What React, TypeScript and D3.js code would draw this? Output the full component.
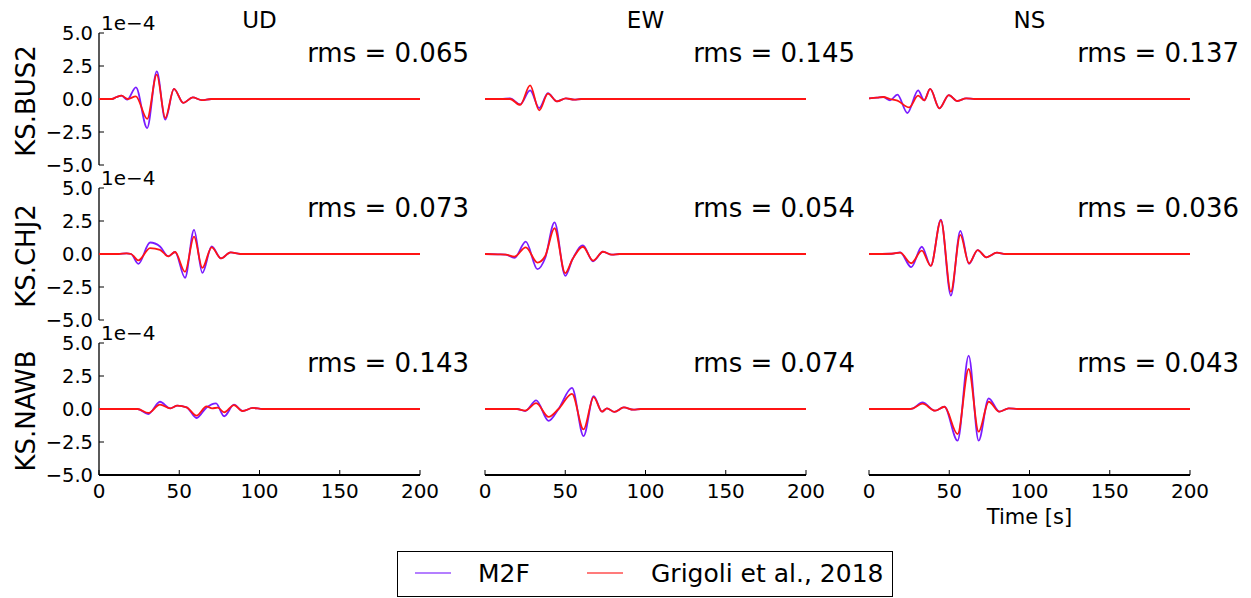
import React from 'react';
import * as d3 from 'd3';

// waveform key points: [time (s), amplitude (1e-4)]
const BUS2_UD_M2F = [[0,0],[8,0],[11,0.15],[14,0.25],[17.5,-0.05],[23,0.88],[30,-2.2],[36,2.1],[41.3,-1.57],[46.7,0.76],[52.5,-0.3],[58.4,0.12],[64,-0.08],[70,0],[200,0]];
const BUS2_UD_GRI = [[0,0],[8,0],[11,0.15],[14,0.25],[18,0.0],[23,0.2],[30,-1.5],[36,1.84],[41.3,-1.44],[46.7,0.76],[52.5,-0.3],[58.4,0.12],[64,-0.08],[70,0],[200,0]];
const BUS2_EW_M2F = [[0,0],[10,0],[15.6,0.05],[21.9,-0.4],[28.1,0.65],[33.8,-0.68],[39.2,0.45],[44.8,-0.18],[50.4,0.05],[55.6,-0.05],[60,0],[200,0]];
const BUS2_EW_GRI = [[0,0],[10,0],[15.6,0.0],[21.9,-0.45],[28.1,1.03],[33.8,-0.86],[39.2,0.4],[44.8,-0.18],[50.4,0.05],[55.6,-0.05],[60,0],[200,0]];
const BUS2_NS_M2F = [[0,0.05],[5,0.1],[8.9,0.15],[13.1,-0.1],[17.7,0.33],[23.9,-1.06],[30.6,0.65],[34.4,-0.1],[38.1,0.76],[43.9,-0.71],[49.7,0.3],[55.1,-0.15],[60.5,0.05],[66,0],[200,0]];
const BUS2_NS_GRI = [[0,0.05],[5,0.1],[8.9,0.15],[13,0.0],[17.7,-0.13],[25,-0.64],[30.6,0.25],[34.4,-0.1],[38.1,0.76],[43.9,-0.71],[49.7,0.3],[55.1,-0.15],[60.5,0.05],[66,0],[200,0]];

const CHJ2_UD_M2F = [[0,0],[12,0],[17.2,0.05],[20,0.0],[24.5,-0.75],[31.8,0.87],[38,0.57],[43.2,-0.18],[47.4,0.15],[53.6,-1.8],[59.2,1.83],[64.4,-1.43],[70.2,0.57],[76,-0.33],[82,0.12],[88,0],[200,0]];
const CHJ2_UD_GRI = [[0,0],[12,0],[17.2,0.05],[20,0.0],[24.5,-0.48],[31.8,0.45],[38,0.32],[43.2,-0.18],[47.4,0.15],[53.6,-1.35],[59.2,1.32],[64.4,-1.05],[70.2,0.5],[76,-0.33],[82,0.12],[88,0],[200,0]];
const CHJ2_EW_M2F = [[0,0],[8,-0.03],[13,-0.05],[18.3,-0.3],[25.4,0.94],[32.7,-1.15],[37.5,-0.3],[43.3,2.4],[50,-1.65],[54.5,-0.4],[61,0.65],[67.3,-0.55],[73.5,0.17],[79,-0.05],[84,0],[200,0]];
const CHJ2_EW_GRI = [[0,0],[8,-0.03],[13,-0.05],[18.3,-0.2],[25.4,0.5],[32.7,-0.65],[37.5,-0.15],[43.3,1.95],[50,-1.45],[54.5,-0.4],[61,0.55],[67.3,-0.5],[73.5,0.17],[79,-0.05],[84,0],[200,0]];
const CHJ2_NS_M2F = [[0,0],[14,0.02],[19.4,0.13],[26.3,-1.0],[32.9,0.55],[38.5,-0.9],[44.8,2.6],[51,-3.15],[56.9,1.75],[62.3,-0.75],[67.7,0.3],[73.1,-0.25],[79.7,0.1],[85,0],[200,0]];
const CHJ2_NS_GRI = [[0,0],[14,0.02],[19.4,0.1],[26.3,-0.7],[32.9,0.25],[38.5,-0.9],[44.8,2.55],[51,-2.85],[56.9,1.45],[62.3,-0.7],[67.7,0.3],[73.1,-0.25],[79.7,0.1],[85,0],[200,0]];

const NAWB_UD_M2F = [[0,0],[24,0],[30.7,-0.38],[38,0.55],[44.4,0.05],[48.8,0.25],[54.6,0.13],[60.8,-0.68],[67,0.12],[72.9,0.43],[78,-0.55],[84.1,0.33],[89.5,-0.15],[95.8,0.08],[102,0],[200,0]];
const NAWB_UD_GRI = [[0,0],[24,0],[30.7,-0.3],[38,0.33],[44.4,0.05],[48.8,0.25],[54.6,0.13],[60.8,-0.5],[67,0.2],[70.5,0.05],[74,0.1],[78,-0.25],[84.1,0.3],[89.5,-0.15],[95.8,0.08],[102,0],[200,0]];
const NAWB_EW_M2F = [[0,0],[20,0],[25,-0.15],[31.9,0.65],[39.6,-0.9],[45.8,0.0],[54.2,1.6],[61.4,-2.05],[67.7,0.98],[72.9,-0.2],[76,0.05],[80.6,-0.22],[86.5,0.12],[92.5,-0.05],[97,0],[200,0]];
const NAWB_EW_GRI = [[0,0],[20,0],[25,-0.12],[31.9,0.45],[39.6,-0.6],[45.8,0.0],[54.2,1.15],[61.4,-1.55],[67.7,0.9],[72.9,-0.2],[76,0.05],[80.6,-0.22],[86.5,0.12],[92.5,-0.05],[97,0],[200,0]];
const NAWB_NS_M2F = [[0,0],[25,0],[27.5,0.05],[33.3,0.5],[41.2,-0.13],[47,0.17],[55.2,-2.4],[62.1,4.04],[68.3,-2.4],[74.6,0.8],[81.2,-0.2],[87,0.05],[93,0],[200,0]];
const NAWB_NS_GRI = [[0,0],[25,0],[27.5,0.05],[33.3,0.4],[41.2,-0.13],[47,0.17],[55.2,-1.9],[62.1,3.03],[68.3,-1.72],[74.6,0.55],[81.2,-0.2],[87,0.05],[93,0],[200,0]];

const stations = ['KS.BUS2', 'KS.CHJ2', 'KS.NAWB'];
const components = ['UD', 'EW', 'NS'];
const rmsValues = [
  ['0.065', '0.145', '0.137'],
  ['0.073', '0.054', '0.036'],
  ['0.143', '0.074', '0.043'],
];
const m2f = [
  [BUS2_UD_M2F, BUS2_EW_M2F, BUS2_NS_M2F],
  [CHJ2_UD_M2F, CHJ2_EW_M2F, CHJ2_NS_M2F],
  [NAWB_UD_M2F, NAWB_EW_M2F, NAWB_NS_M2F],
];
const grigoli = [
  [BUS2_UD_GRI, BUS2_EW_GRI, BUS2_NS_GRI],
  [CHJ2_UD_GRI, CHJ2_EW_GRI, CHJ2_NS_GRI],
  [NAWB_UD_GRI, NAWB_EW_GRI, NAWB_NS_GRI],
];
const xTicks = [0, 50, 100, 150, 200];
const yTicks = [5, 2.5, 0, -2.5, -5];
const legendLabels = ['M2F', 'Grigoli et al., 2018'];

const BLUE = '#7a1cff';
const RED = '#ff1414';
const FONT = '"DejaVu Sans", sans-serif';

const colLeft = [99, 485, 869];
const rowZero = [99, 254, 409];
const plotW = 321;
const half = 66;

const fmt = (v: number) => d3.format('.1f')(v).replace('-', '\u2212');

export default function App() {
  return (
    <svg width={1251} height={598} style={{ position: 'absolute', left: 0, top: 0, background: '#fff' }} fontFamily={FONT}>
      {components.map((c, ci) => (
        <text key={c} x={colLeft[ci] + plotW / 2} y={28} fontSize={23} textAnchor="middle">{c}</text>
      ))}
      {stations.map((st, ri) => {
        const y = d3.scaleLinear().domain([-5, 5]).range([rowZero[ri] + half, rowZero[ri] - half]);
        return (
          <g key={st}>
            <text transform={`translate(35,${rowZero[ri] + 2}) rotate(-90)`} fontSize={26} textAnchor="middle">{st}</text>
            {components.map((c, ci) => {
              const x = d3.scaleLinear().domain([0, 200]).range([colLeft[ci], colLeft[ci] + plotW]);
              const line = d3.line<number[]>().x(d => x(d[0])).y(d => y(d[1])).curve(d3.curveMonotoneX);
              return (
                <g key={c}>
                  {ci === 0 && (
                    <g>
                      <line x1={x(0)} x2={x(0)} y1={y(5)} y2={y(-5)} stroke="#000" strokeWidth={1.3} />
                      {yTicks.map(t => (
                        <g key={t}>
                          <line x1={x(0)} x2={x(0) + 5} y1={y(t)} y2={y(t)} stroke="#000" />
                          <text x={x(0) - 6} y={y(t) + 7} fontSize={19.5} textAnchor="end">{fmt(t)}</text>
                        </g>
                      ))}
                      <text x={x(0) + 2} y={y(5) - 3} fontSize={20}>1e{'\u2212'}4</text>
                    </g>
                  )}
                  {ri === 2 && (
                    <g>
                      <line x1={x(0)} x2={x(200)} y1={y(-5)} y2={y(-5)} stroke="#000" strokeWidth={1.8} />
                      {xTicks.map(t => (
                        <g key={t}>
                          <line x1={x(t)} x2={x(t)} y1={y(-5)} y2={y(-5) - 5} stroke="#000" />
                          <text x={x(t)} y={y(-5) + 23} fontSize={20} textAnchor="middle">{t}</text>
                        </g>
                      ))}
                    </g>
                  )}
                  <path d={line(m2f[ri][ci]) || ''} fill="none" stroke={BLUE} strokeWidth={1.8} />
                  <path d={line(grigoli[ri][ci]) || ''} fill="none" stroke={RED} strokeWidth={1.8} />
                  <text x={colLeft[ci] + 370} y={rowZero[ri] - 37} fontSize={26} textAnchor="end">rms = {rmsValues[ri][ci]}</text>
                </g>
              );
            })}
          </g>
        );
      })}
      <text x={colLeft[2] + plotW / 2} y={524} fontSize={21} textAnchor="middle">Time [s]</text>
      <g>
        <rect x={397.5} y={551.5} width={495} height={45} fill="#fff" stroke="#000" strokeWidth={1} />
        <line x1={415} x2={451} y1={573} y2={573} stroke={BLUE} strokeWidth={1.5} strokeOpacity={0.75} />
        <text x={478} y={582} fontSize={25}>{legendLabels[0]}</text>
        <line x1={587} x2={623} y1={573} y2={573} stroke={RED} strokeWidth={1.5} strokeOpacity={0.75} />
        <text x={651} y={582} fontSize={25}>{legendLabels[1]}</text>
      </g>
    </svg>
  );
}
